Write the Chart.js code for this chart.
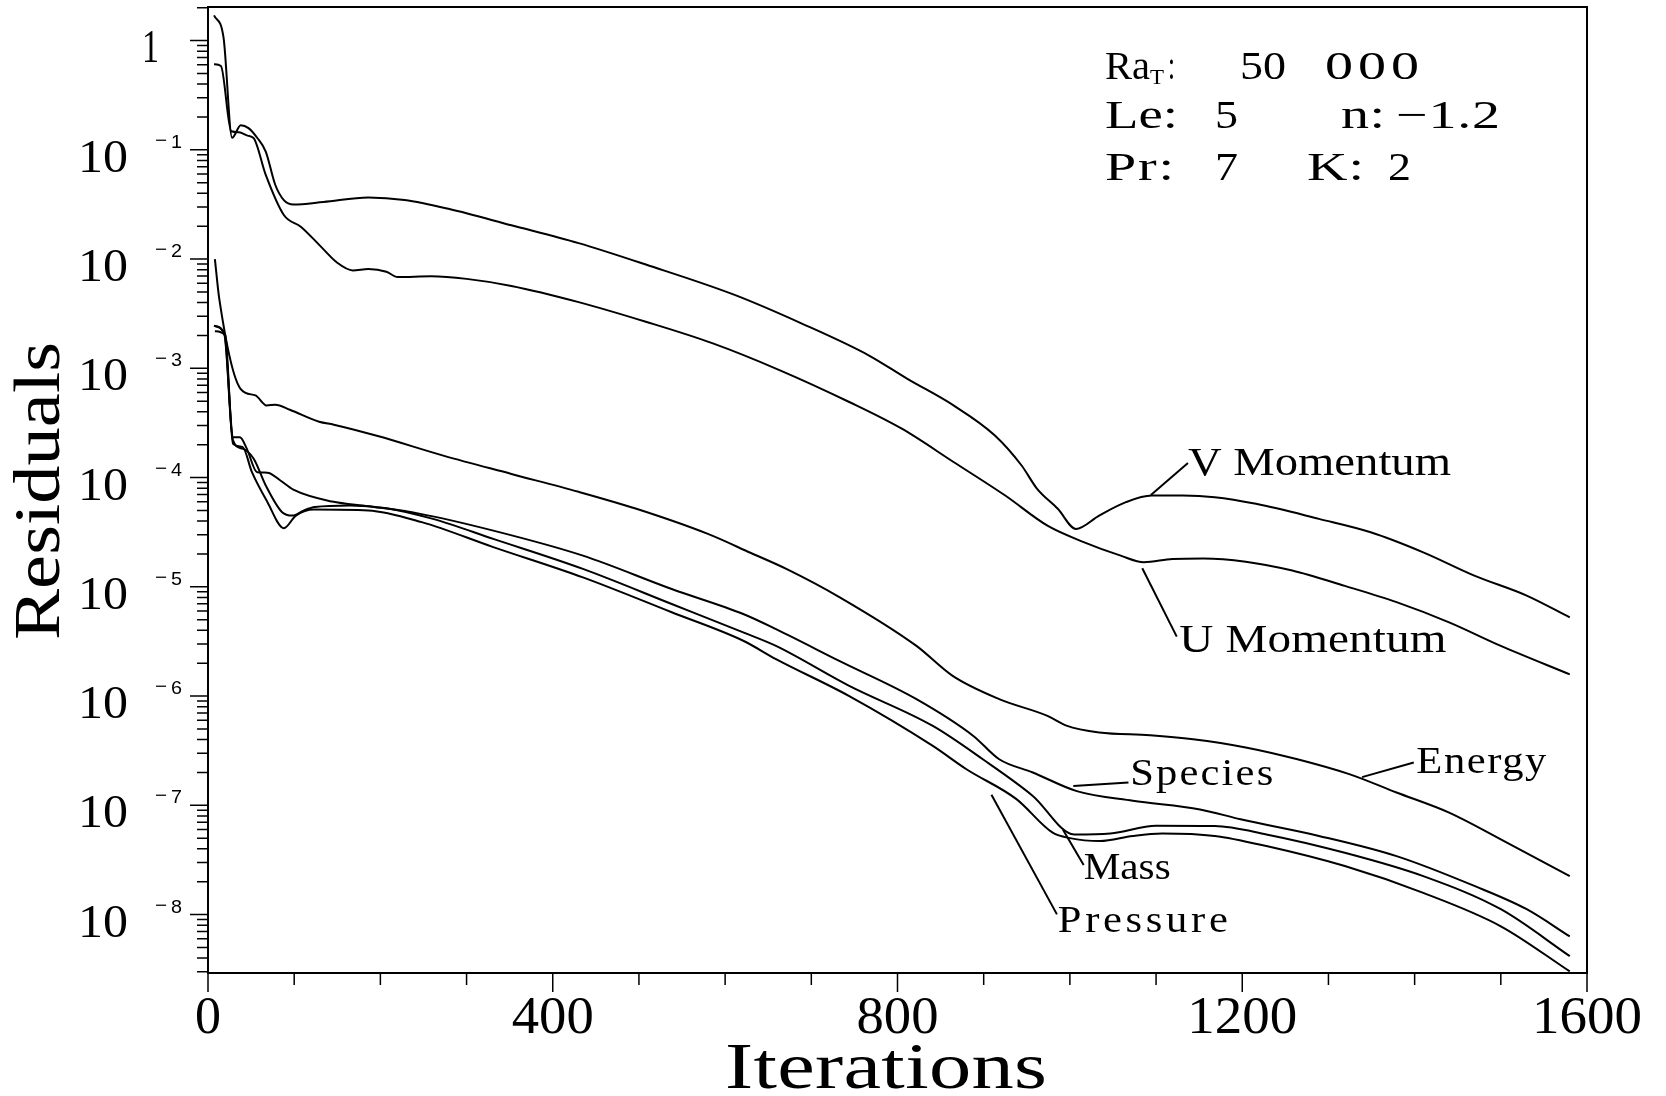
<!DOCTYPE html>
<html>
<head>
<meta charset="utf-8">
<script src="https://cdn.jsdelivr.net/npm/chart.js@4.4.1/dist/chart.umd.min.js"></script>
<style>
  html, body { margin: 0; padding: 0; background: #fff; }
  canvas { display: block; }
</style>
</head>
<body>
<canvas id="residuals-chart" width="1666" height="1096"></canvas>
<script>
// residual histories (iteration, residual)
const vMomIter = [7, 18, 28, 38, 47, 57, 67, 78, 88, 99, 134, 186, 228, 280, 352, 430, 508, 611, 689, 767, 811, 865, 913, 944, 962, 986, 1007, 1034, 1065, 1095, 1131, 1168, 1216, 1289, 1349, 1410, 1470, 1530, 1580];
const vMomRes = [1.7, 1.07, 0.129, 0.168, 0.158, 0.129, 0.0964, 0.0479, 0.0347, 0.0316, 0.0333, 0.0366, 0.0347, 0.0287, 0.0204, 0.0140, 0.00891, 0.0047, 0.00257, 0.00131, 8.05e-4, 4.58e-4, 2.43e-4, 1.29e-4, 7.89e-5, 5.18e-5, 3.39e-5, 4.49e-5, 5.96e-5, 6.85e-5, 6.85e-5, 6.62e-5, 5.75e-5, 4.19e-5, 3.16e-5, 2.07e-5, 1.26e-5, 8.32e-6, 5.25e-6];

const uMomIter = [7, 15, 27, 36, 46, 53, 67, 88, 108, 129, 150, 168, 186, 207, 220, 259, 300, 352, 430, 508, 585, 663, 744, 805, 865, 925, 974, 1016, 1059, 1086, 1119, 1155, 1204, 1258, 1319, 1379, 1440, 1500, 1580];
const uMomRes = [0.608, 0.586, 0.148, 0.145, 0.135, 0.128, 0.0589, 0.0253, 0.0197, 0.0135, 0.00925, 0.00787, 0.00813, 0.00767, 0.00684, 0.00695, 0.00659, 0.00568, 0.00404, 0.00267, 0.0017, 9.64e-4, 4.92e-4, 2.8e-4, 1.39e-4, 6.85e-5, 3.63e-5, 2.57e-5, 1.93e-5, 1.68e-5, 1.8e-5, 1.82e-5, 1.7e-5, 1.41e-5, 1.02e-5, 7.24e-6, 4.73e-6, 2.88e-6, 1.58e-6];

const energyIter = [8, 13, 38, 55, 68, 78, 95, 129, 146, 197, 274, 352, 430, 497, 580, 630, 671, 733, 822, 864, 918, 974, 996, 1034, 1093, 1143, 1204, 1264, 1325, 1379, 1440, 1500, 1580];
const energyRes = [1.0e-2, 4.37e-3, 6.46e-4, 5.66e-4, 4.58e-4, 4.65e-4, 4.18e-4, 3.24e-4, 3.05e-4, 2.4e-4, 1.58e-4, 1.08e-4, 7.41e-5, 5.18e-5, 3.05e-5, 2.04e-5, 1.46e-5, 8.02e-6, 2.88e-6, 1.53e-6, 9.38e-7, 6.59e-7, 5.37e-7, 4.65e-7, 4.39e-7, 4.03e-7, 3.39e-7, 2.64e-7, 1.92e-7, 1.31e-7, 8.57e-8, 4.88e-8, 2.25e-8];

const speciesIter = [7, 19, 29, 37, 45, 57, 69, 84, 99, 144, 186, 245, 331, 435, 538, 621, 659, 733, 822, 888, 918, 957, 1008, 1073, 1151, 1198, 1289, 1379, 1470, 1530, 1580];
const speciesRes = [2.45e-3, 2.04e-3, 2.34e-4, 2.34e-4, 1.84e-4, 1.12e-4, 1.11e-4, 9.4e-5, 7.76e-5, 6.03e-5, 5.47e-5, 4.68e-5, 3.27e-5, 1.93e-5, 9.55e-6, 5.64e-6, 4.1e-6, 2.09e-6, 9.38e-7, 4.32e-7, 2.64e-7, 2.0e-7, 1.35e-7, 1.1e-7, 9.18e-8, 7.45e-8, 5.25e-8, 3.43e-8, 1.82e-8, 1.12e-8, 6.31e-9];

const massIter = [8, 19, 29, 40, 53, 67, 86, 98, 111, 124, 165, 207, 261, 331, 435, 538, 621, 659, 744, 841, 899, 957, 1005, 1047, 1100, 1168, 1228, 1319, 1410, 1500, 1580];
const massRes = [2.19e-3, 2.04e-3, 2.19e-4, 1.84e-4, 1.49e-4, 8.47e-5, 4.82e-5, 4.49e-5, 4.99e-5, 5.37e-5, 5.55e-5, 5.25e-5, 4.19e-5, 2.75e-5, 1.46e-5, 6.97e-6, 3.83e-6, 2.88e-6, 1.24e-6, 5.33e-7, 2.64e-7, 1.22e-7, 5.42e-8, 5.53e-8, 6.5e-8, 6.46e-8, 5.42e-8, 3.68e-8, 2.25e-8, 1.12e-8, 4.17e-9];

const pressureIter = [7, 20, 29, 40, 51, 69, 88, 102, 123, 186, 248, 331, 435, 538, 621, 659, 744, 841, 880, 938, 980, 1000, 1035, 1073, 1107, 1168, 1228, 1319, 1410, 1500, 1580];
const pressureRes = [2.45e-3, 2.0e-3, 2.04e-4, 1.91e-4, 1.12e-4, 5.96e-5, 3.44e-5, 4.49e-5, 5.11e-5, 5.01e-5, 3.91e-5, 2.31e-5, 1.22e-5, 5.85e-6, 3.21e-6, 2.18e-6, 1.0e-6, 3.5e-7, 2.14e-7, 1.14e-7, 5.62e-8, 5.01e-8, 4.71e-8, 5.25e-8, 5.53e-8, 5.25e-8, 4.24e-8, 2.78e-8, 1.58e-8, 7.82e-9, 3.02e-9];

const xTickLabels = ["0", "400", "800", "1200", "1600"];
const xTickValues = [0, 400, 800, 1200, 1600];
const yTickExponents = [0, -1, -2, -3, -4, -5, -6, -7, -8];

// curve labels: text anchor and leader line, in (iteration, log10 residual)
const curveLabels = [
  { text: "V Momentum", at: [1137, -3.976], from: [1094, -4.159], to: [1137, -3.866], width: 263, size: 41 },
  { text: "U Momentum", at: [1127, -5.593], from: [1084, -4.83], to: [1124, -5.456], width: 267, size: 41 },
  { text: "Species", at: [1070, -6.813], from: [1004, -6.822], to: [1068, -6.791], width: 143, size: 37 },
  { text: "Energy", at: [1402, -6.705], from: [1339, -6.742], to: [1399, -6.608], width: 130, size: 37 },
  { text: "Mass", at: [1016, -7.675], from: [992, -7.224], to: [1016, -7.545], width: 87, size: 37 },
  { text: "Pressure", at: [986, -8.155], from: [909, -6.904], to: [985, -7.998], width: 170, size: 37 }
];

function points(iters, vals) {
  return iters.map((it, i) => ({ x: it, y: vals[i] }));
}

// draws s with its left edge at x, widened to about `width` px:
// first by stretching the glyphs (up to maxSx), the rest by letter spacing
function fitText(ctx, s, x, y, width, maxSx) {
  maxSx = maxSx || 1.25;
  ctx.save();
  ctx.letterSpacing = "0px";
  const w = ctx.measureText(s).width;
  let scale = Math.max(0.8, Math.min(width / w, maxSx));
  let ls = 0;
  if (s.length > 1) ls = (width / scale - w) / (s.length - 1);
  else scale = width / w;
  ctx.translate(x, y);
  ctx.scale(scale, 1);
  ctx.letterSpacing = ls + "px";
  ctx.textAlign = "left";
  ctx.textBaseline = "alphabetic";
  ctx.fillText(s, 0, 0);
  ctx.restore();
}

const SERIF = '"Liberation Serif", "DejaVu Serif", serif';
const SANS = '"Liberation Sans", "DejaVu Sans", sans-serif';

const decorPlugin = {
  id: "decor",
  afterDraw(chart) {
    const { ctx, chartArea: a, scales } = chart;
    const x = scales.x, y = scales.y;
    ctx.save();
    ctx.strokeStyle = "#000";
    ctx.fillStyle = "#000";
    ctx.lineCap = "butt";

    // frame
    ctx.lineWidth = 2;
    ctx.strokeRect(a.left, a.top, a.right - a.left, a.bottom - a.top);

    // x ticks, every 100 with longer ones at labels
    ctx.lineWidth = 1.5;
    ctx.beginPath();
    for (let v = 0; v <= 1600; v += 100) {
      const px = x.getPixelForValue(v);
      const len = xTickValues.includes(v) ? 19 : 12;
      ctx.moveTo(px, a.bottom);
      ctx.lineTo(px, a.bottom + len);
    }
    // y ticks, log decades with 2..9 minors
    for (let e = -9; e <= 0; e++) {
      for (let m = 1; m <= 9; m++) {
        const v = m * Math.pow(10, e);
        if (v < y.min || v > y.max) continue;
        const py = y.getPixelForValue(v);
        const len = m === 1 ? 18 : 11;
        ctx.moveTo(a.left - len, py);
        ctx.lineTo(a.left, py);
      }
    }
    ctx.stroke();

    // x tick labels
    ctx.font = "52px " + SERIF;
    xTickLabels.forEach((lab, i) => {
      const px = x.getPixelForValue(xTickValues[i]);
      const w = 28 * lab.length - 2;
      fitText(ctx, lab, px - w / 2, 1033, w, 1.1);
    });

    // y tick labels: 10 with exponent
    yTickExponents.forEach((e) => {
      const py = y.getPixelForValue(Math.pow(10, e));
      ctx.font = "47px " + SERIF;
      if (e === 0) {
        fitText(ctx, "1", 142, py + 21, 17);
        return;
      }
      fitText(ctx, "10", 78, py + 22, 50, 1.1);
      ctx.font = "18px " + SANS;
      fitText(ctx, "\u2212", 155, py - 4, 12);
      fitText(ctx, String(-e), 171, py - 2, 11);
    });

    // axis titles
    ctx.font = "65px " + SERIF;
    fitText(ctx, "Iterations", 725, 1088, 322, 1.3);
    ctx.save();
    ctx.translate(59, 491);
    ctx.rotate(-Math.PI / 2);
    fitText(ctx, "Residuals", -149, 0, 298, 1.25);
    ctx.restore();

    // curve labels with leader lines
    ctx.lineWidth = 2;
    curveLabels.forEach((c) => {
      ctx.beginPath();
      ctx.moveTo(x.getPixelForValue(c.from[0]), y.getPixelForValue(Math.pow(10, c.from[1])));
      ctx.lineTo(x.getPixelForValue(c.to[0]), y.getPixelForValue(Math.pow(10, c.to[1])));
      ctx.stroke();
      ctx.font = c.size + "px " + SERIF;
      fitText(ctx, c.text, x.getPixelForValue(c.at[0]), y.getPixelForValue(Math.pow(10, c.at[1])), c.width, 1.15);
    });

    // parameter box, top right
    ctx.font = "40px " + SERIF;
    fitText(ctx, "Ra", 1105, 79, 45, 1.4);
    ctx.font = "22px " + SERIF;
    fitText(ctx, "T", 1150, 84, 14);
    ctx.font = "40px " + SERIF;
    fitText(ctx, ":", 1168, 79, 7);
    fitText(ctx, "50", 1240, 79, 46, 1.4);
    fitText(ctx, "000", 1325, 79, 94, 1.4);
    fitText(ctx, "Le:", 1105, 128, 73, 1.4);
    fitText(ctx, "5", 1215, 128, 23);
    fitText(ctx, "n:", 1341, 128, 44, 1.4);
    fitText(ctx, "\u22121.2", 1396, 128, 104, 1.4);
    fitText(ctx, "Pr:", 1105, 180, 69, 1.4);
    fitText(ctx, "7", 1215, 180, 23);
    fitText(ctx, "K:", 1307, 180, 57, 1.4);
    fitText(ctx, "2", 1388, 180, 23);

    ctx.restore();
  }
};

const lineStyle = {
  borderColor: "#000",
  borderWidth: 2,
  pointRadius: 0,
  cubicInterpolationMode: "monotone",
  fill: false
};

const config = {
  type: "line",
  data: {
    datasets: [
      { label: "V Momentum", data: points(vMomIter, vMomRes), ...lineStyle },
      { label: "U Momentum", data: points(uMomIter, uMomRes), ...lineStyle },
      { label: "Energy", data: points(energyIter, energyRes), ...lineStyle },
      { label: "Species", data: points(speciesIter, speciesRes), ...lineStyle },
      { label: "Mass", data: points(massIter, massRes), ...lineStyle },
      { label: "Pressure", data: points(pressureIter, pressureRes), ...lineStyle }
    ]
  },
  options: {
    responsive: false,
    animation: false,
    devicePixelRatio: 1,
    layout: { padding: { top: 7, right: 79, bottom: 0, left: 0 } },
    plugins: {
      legend: { display: false },
      tooltip: { enabled: false }
    },
    scales: {
      x: {
        type: "linear",
        min: 0,
        max: 1600,
        grid: { display: false, drawTicks: false },
        border: { display: false },
        ticks: { display: false },
        afterFit: (scale) => { scale.height = 123; }
      },
      y: {
        type: "logarithmic",
        min: 2.92e-9,
        max: 2.03,
        grid: { display: false, drawTicks: false },
        border: { display: false },
        ticks: { display: false },
        afterFit: (scale) => { scale.width = 208; }
      }
    }
  },
  plugins: [decorPlugin]
};

const ctx = document.getElementById("residuals-chart").getContext("2d");
window.residualChart = new Chart(ctx, config);
</script>
</body>
</html>
